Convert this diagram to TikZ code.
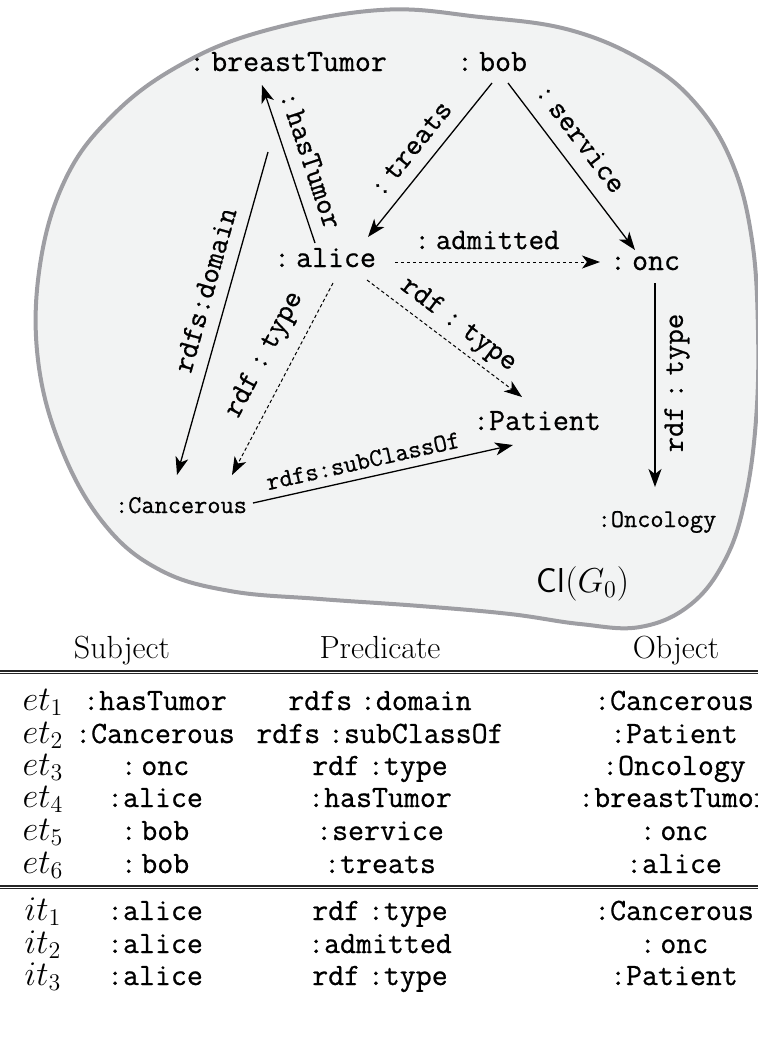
\documentclass[tikz,border=0pt]{standalone}
\usepackage{fontspec}
\setmonofont{Latin Modern Mono}[FakeBold=0.7]
\usetikzlibrary{arrows.meta}
\definecolor{blobfill}{RGB}{242,243,243}
\definecolor{blobline}{RGB}{158,158,163}
\tikzset{
  nd/.style={font=\fontsize{15.5}{18}\selectfont\ttfamily, inner sep=0pt, anchor=base},
  ndsmall/.style={font=\fontsize{12.8}{15}\selectfont\ttfamily, inner sep=0pt, anchor=base},
  lbl/.style={font=\fontsize{15}{18}\selectfont\ttfamily, inner sep=0pt},
  lblsmall/.style={font=\fontsize{12.8}{15}\selectfont\ttfamily, inner sep=0pt},
  edge/.style={line width=0.65pt, -{Stealth[length=9pt,width=6.5pt,inset=2.5pt]}},
  infer/.style={line width=0.5pt, dash pattern=on 1.7pt off 1.3pt, -{Stealth[length=9pt,width=6.5pt,inset=2.5pt]}},
  hd/.style={font=\fontsize{16}{19}\selectfont, inner sep=0pt, anchor=base},
  tl/.style={font=\fontsize{17.28}{19}\selectfont, inner sep=0pt, anchor=base},
  tt/.style={font=\fontsize{15.5}{18}\selectfont\ttfamily, inner sep=0pt, anchor=base},
  rulel/.style={line width=0.75pt, black!85}
}
\begin{document}
\begin{tikzpicture}[x=0.5pt,y=-0.5pt]
\useasboundingbox (0,0) rectangle (758,1046);
% blob
\draw[blobline, line width=2pt, fill=blobfill] plot[smooth cycle, tension=0.65] coordinates {
 (380,10) (480,17) (570,30) (645,62) (697,105) (733,165) (752,240) (758,330)
 (756,420) (745,500) (725,560) (690,605) (640,627) (580,624) (510,614) (420,606)
 (320,599) (230,591) (160,570) (105,525) (62,450) (38,360) (40,265) (65,180)
 (110,118) (175,68) (260,32)};
% nodes
\node[nd] (bt) at (288,71) {:\kern.2em breastTumor};
\node[nd] (bob) at (492,71) {:\kern.2em bob};
\node[nd] (alice) at (325,267) {:\kern.2em alice};
\node[nd] (onc) at (645,270) {:\kern.2em onc};
\node[nd] (pat) at (537,430) {:Patient};
\node[ndsmall] (canc) at (181,513) {:Cancerous};
\node[ndsmall] (onco) at (657,527) {:Oncology};
\node[font=\fontsize{17.28}{20}\selectfont, inner sep=0pt, anchor=base] (cl) at (583,592) {$\mathsf{Cl}(G_0)$};
% edges
\draw[edge] ([shift={(-10,-24)}]alice.base) -- ([shift={(-26,14)}]bt.base);
\coordinate (dom) at ([shift={(-20,81)}]bt.base);
\draw[edge] (dom) -- ([shift={(-4,-38)}]canc.base);
\draw[edge] ([shift={(0,12)}]bob.base) -- ([shift={(43,-30)}]alice.base);
\draw[edge] ([shift={(16,12)}]bob.base) -- ([shift={(-10,-20)}]onc.base);
\draw[infer] ([shift={(70,-5)}]alice.base) -- ([shift={(-45,-8)}]onc.base);
\draw[infer] ([shift={(8,16)}]alice.base) -- ([shift={(51,-38)}]canc.base);
\draw[infer] ([shift={(42,13)}]alice.base) -- ([shift={(-15,-33)}]pat.base);
\draw[edge] ([shift={(72,-10)}]canc.base) -- ([shift={(-24,15)}]pat.base);
\draw[edge] ([shift={(10,13)}]onc.base) -- ([shift={(-2,-40)}]onco.base);
% edge labels
\node[lbl, rotate=-71.5] (lhas) at (311,160) {:\kern.15em hasTumor};
\node[lbl, rotate=74.3] (ldom) at (205,290) {rdfs:domain};
\node[lbl, rotate=51.2] (ltr) at (411,149) {:\kern.2em treats};
\node[lbl, rotate=-52.7] (lsv) at (581,138) {:\kern.2em service};
\node[lbl] (ladm) at (487,240) {:\kern.2em admitted};
\node[lbl, rotate=62.3] (lty1) at (265,355) {rdf\kern.25em:\kern.25em type};
\node[lbl, rotate=-37] (lty2) at (458,325) {rdf\kern.25em:\kern.25em type};
\node[lblsmall, rotate=12.6] (lsub) at (363,461) {rdfs:subClassOf};
\node[lbl, rotate=90] (lty3) at (677,383) {rdf\kern.25em:\kern.25em type};
% table
\node[hd] (hs) at (122,658) {Subject};
\node[hd] (hp) at (380,658) {Predicate};
\node[hd] (ho) at (676,658) {Object};
\draw[rulel] (0,671) -- (758,671);
\draw[rulel] (0,673.5) -- (758,673.5);
\foreach \n/\y/\l/\s/\p/\o in {
  e1/710/{$et_1$}/{:hasTumor}/{rdfs\kern.25em:domain}/{:Cancerous},
  e2/743/{$et_2$}/{:Cancerous}/{rdfs\kern.25em:subClassOf}/{:Patient},
  e3/775/{$et_3$}/{:\kern.15em onc}/{rdf\kern.25em:type}/{:Oncology},
  e4/807/{$et_4$}/{:alice}/{:hasTumor}/{:breastTumor},
  e5/840/{$et_5$}/{:\kern.15em bob}/{:service}/{:\kern.15em onc},
  e6/873/{$et_6$}/{:\kern.15em bob}/{:treats}/{:alice},
  i1/920/{$it_1$}/{:alice}/{rdf\kern.25em:type}/{:Cancerous},
  i2/953/{$it_2$}/{:alice}/{:admitted}/{:\kern.15em onc},
  i3/985/{$it_3$}/{:alice}/{rdf\kern.25em:type}/{:Patient}}
{
  \node[tl] (\n-l) at (43,\y) {\l};
  \node[tt] (\n-s) at (155,\y) {\s};
  \node[tt] (\n-p) at (380,\y) {\p};
  \node[tt] (\n-o) at (674,\y) {\o};
}
\draw[rulel] (0,886) -- (758,886);
\draw[rulel] (0,888.5) -- (758,888.5);
\end{tikzpicture}
\end{document}
